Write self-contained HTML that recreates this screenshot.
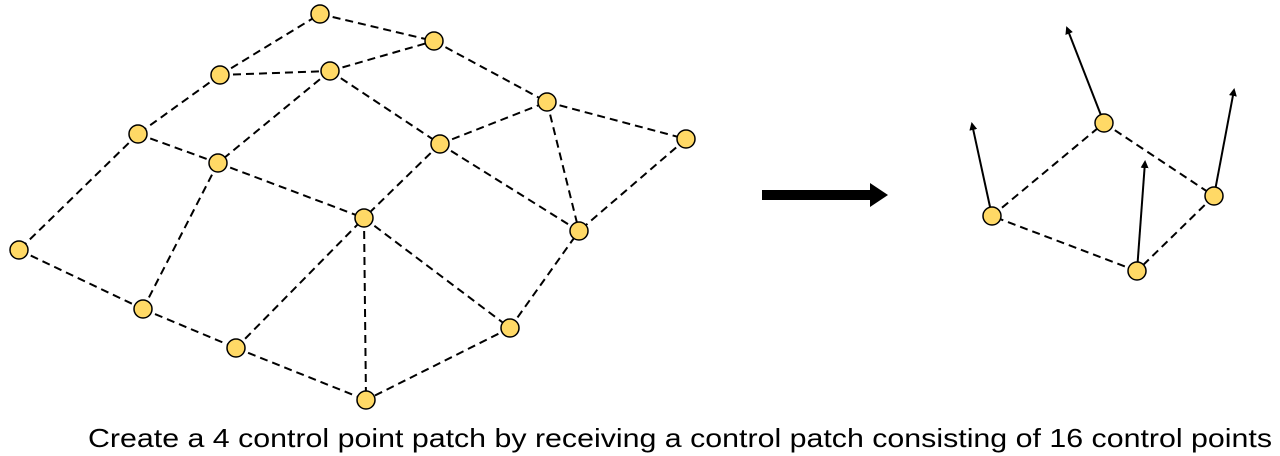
<!DOCTYPE html>
<html><head><style>body{margin:0;background:#fff}svg{display:block}</style></head><body>
<svg width="1280" height="456" viewBox="0 0 1280 456" xmlns="http://www.w3.org/2000/svg">
<defs><marker id="ah" markerWidth="8" markerHeight="8" refX="6" refY="4" orient="auto" markerUnits="userSpaceOnUse"><path d="M0,0 L8,4 L0,8 Z" fill="#000"/></marker></defs>
<g stroke="#000" stroke-width="2" stroke-dasharray="8,5" fill="none">
<line x1="320" y1="14" x2="434" y2="41"/><line x1="220" y1="75" x2="320" y2="14"/>
<line x1="220" y1="75" x2="330" y2="71"/><line x1="330" y1="71" x2="434" y2="41"/>
<line x1="434" y1="41" x2="547" y2="102"/><line x1="547" y1="102" x2="686" y2="139"/>
<line x1="686" y1="139" x2="579" y2="231"/><line x1="547" y1="102" x2="579" y2="231"/>
<line x1="440" y1="144" x2="547" y2="102"/><line x1="330" y1="71" x2="440" y2="144"/>
<line x1="330" y1="71" x2="218" y2="163"/><line x1="220" y1="75" x2="138" y2="134"/>
<line x1="138" y1="134" x2="218" y2="163"/><line x1="138" y1="134" x2="19" y2="250"/>
<line x1="218" y1="163" x2="364" y2="218"/><line x1="440" y1="144" x2="364" y2="218"/>
<line x1="440" y1="144" x2="579" y2="231"/><line x1="19" y1="250" x2="143" y2="309"/>
<line x1="143" y1="309" x2="218" y2="163"/><line x1="143" y1="309" x2="236" y2="348"/>
<line x1="236" y1="348" x2="364" y2="218"/><line x1="236" y1="348" x2="366" y2="400"/>
<line x1="364" y1="218" x2="366" y2="400"/><line x1="364" y1="218" x2="510" y2="328"/>
<line x1="510" y1="328" x2="579" y2="231"/><line x1="510" y1="328" x2="366" y2="400"/>
<line x1="992" y1="216" x2="1104" y2="123"/><line x1="1104" y1="123" x2="1214" y2="196"/>
<line x1="1214" y1="196" x2="1137" y2="271"/><line x1="1137" y1="271" x2="992" y2="216"/>
</g>
<g stroke="#000" stroke-width="2" marker-end="url(#ah)">
<line x1="992" y1="216" x2="972" y2="124"/><line x1="1104" y1="123" x2="1067" y2="28"/>
<line x1="1214" y1="196" x2="1234" y2="90"/><line x1="1137" y1="271" x2="1145" y2="162"/>
</g>
<line x1="762" y1="195" x2="872" y2="195" stroke="#000" stroke-width="10"/>
<path d="M870,183 L888,195 L870,207 Z" fill="#000"/>
<g fill="#FFD966" stroke="#000" stroke-width="1.5">
<circle cx="320" cy="14" r="9"/><circle cx="434" cy="41" r="9"/><circle cx="220" cy="75" r="9"/><circle cx="330" cy="71" r="9"/>
<circle cx="547" cy="102" r="9"/><circle cx="138" cy="134" r="9"/><circle cx="686" cy="139" r="9"/><circle cx="440" cy="144" r="9"/>
<circle cx="218" cy="163" r="9"/><circle cx="364" cy="218" r="9"/><circle cx="579" cy="231" r="9"/><circle cx="19" cy="250" r="9"/>
<circle cx="143" cy="309" r="9"/><circle cx="510" cy="328" r="9"/><circle cx="236" cy="348" r="9"/><circle cx="366" cy="400" r="9"/>
<circle cx="992" cy="216" r="9"/><circle cx="1104" cy="123" r="9"/><circle cx="1214" cy="196" r="9"/><circle cx="1137" cy="271" r="9"/>
</g>
<text x="88" y="447" font-family="Liberation Sans, sans-serif" font-size="26" fill="#000" textLength="1184" lengthAdjust="spacingAndGlyphs">Create a 4 control point patch by receiving a control patch consisting of 16 control points</text>
</svg>
</body></html>
